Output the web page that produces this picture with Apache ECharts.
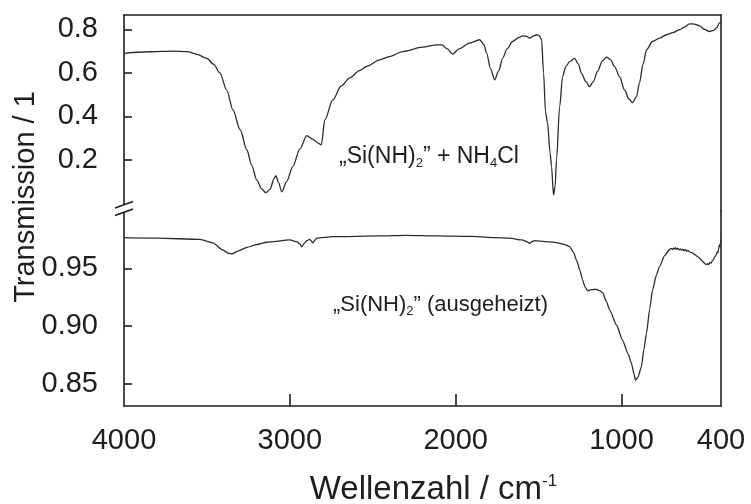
<!DOCTYPE html>
<html><head><meta charset="utf-8">
<script src="https://cdn.jsdelivr.net/npm/echarts@6/dist/echarts.min.js"></script>
<style>html,body{margin:0;padding:0;background:#fff}#c{width:751px;height:504px}</style>
</head><body><div id="c"></div><script>
// ---- data ----
const xTickLabels = [4000, 3000, 2000, 1000, 400];
const xTickMarks = [1000, 3000];       // first/last inner tick, step below
const xTickStep = 1000;
const topTicks = [0.2, 0.4, 0.6, 0.8];
const topTickStep = 0.2;
const bottomTicks = [0.85, 0.90, 0.95];
const bottomTickStep = 0.05;

// "Si(NH)2" + NH4Cl
const topWn = [4000,3850,3705,3620,3560,3500,3460,3422,3380,3343,3300,3259,3230,3199,3170,3145,3120,3095,3084,3070,3048,3020,2982,2940,2898,2860,2830,2810,2789,2741,2690,2639,2580,2536,2458,2400,2319,2200,2114,2084,2050,2018,1980,1916,1855,1830,1813,1790,1765,1740,1717,1690,1657,1620,1596,1570,1554,1530,1512,1495,1482,1470,1458,1446,1430,1422,1410,1400,1392,1373,1355,1335,1313,1283,1260,1241,1215,1193,1170,1145,1115,1090,1065,1042,1010,982,955,934,910,892,870,849,813,770,729,690,651,620,590,560,530,500,470,445,428,410,400];
const topT  = [0.690,0.697,0.700,0.698,0.685,0.667,0.640,0.600,0.520,0.430,0.340,0.246,0.175,0.108,0.068,0.050,0.065,0.115,0.128,0.100,0.054,0.100,0.170,0.250,0.312,0.295,0.278,0.270,0.384,0.476,0.540,0.577,0.610,0.630,0.660,0.675,0.698,0.718,0.729,0.729,0.710,0.686,0.710,0.737,0.752,0.730,0.690,0.620,0.568,0.610,0.667,0.710,0.744,0.762,0.770,0.768,0.760,0.770,0.775,0.770,0.752,0.600,0.420,0.370,0.230,0.170,0.039,0.080,0.200,0.445,0.583,0.630,0.652,0.667,0.640,0.598,0.560,0.537,0.560,0.606,0.655,0.672,0.660,0.629,0.580,0.522,0.480,0.463,0.490,0.553,0.640,0.706,0.744,0.760,0.775,0.785,0.798,0.810,0.825,0.824,0.816,0.800,0.790,0.795,0.805,0.828,0.835];

// "Si(NH)2" (ausgeheizt)
const botWn = [4000,3800,3542,3464,3404,3370,3349,3310,3259,3200,3139,3000,2958,2940,2928,2910,2898,2880,2861,2845,2837,2741,2458,2300,2114,1900,1753,1675,1600,1570,1554,1540,1524,1450,1392,1340,1313,1290,1271,1250,1235,1220,1205,1180,1151,1130,1114,1090,1072,1030,994,960,940,925,916,900,880,865,849,830,813,790,771,740,711,700,693,686,680,674,668,660,652,645,637,630,622,615,607,600,590,575,560,545,530,520,512,505,498,490,482,475,468,460,452,445,438,430,424,418,414,410,406,402,400];
const botT  = [0.9765,0.9760,0.9750,0.9720,0.9658,0.9630,0.9624,0.9650,0.9680,0.9705,0.9725,0.9745,0.9730,0.9710,0.9687,0.9720,0.9739,0.9750,0.9720,0.9750,0.9760,0.9773,0.9780,0.9785,0.9780,0.9775,0.9765,0.9760,0.9745,0.9730,0.9716,0.9730,0.9739,0.9730,0.9722,0.9705,0.9687,0.9640,0.9570,0.9480,0.9400,0.9340,0.9306,0.9315,0.9318,0.9305,0.9290,0.9210,0.9140,0.9010,0.8880,0.8760,0.8678,0.8590,0.8534,0.8560,0.8650,0.8800,0.8940,0.9150,0.9310,0.9440,0.9514,0.9610,0.9660,0.9672,0.9662,0.9675,0.9667,0.9678,0.9663,0.9671,0.9660,0.9668,0.9657,0.9664,0.9652,0.9660,0.9648,0.9655,0.9642,0.9635,0.9620,0.9605,0.9587,0.9575,0.9560,0.9552,0.9540,0.9532,0.9540,0.9530,0.9548,0.9545,0.9565,0.9575,0.9598,0.9612,0.9640,0.9635,0.9670,0.9700,0.9690,0.9730,0.9745];

const annoTop = '„Si(NH){sub|2}” + NH{sub|4}Cl';
const annoBot = '„Si(NH){sub|2}” (ausgeheizt)';
const yTitle = 'Transmission / 1';
const xTitle = 'Wellenzahl / cm{sup|-1}';

// ---- layout ----
const W = 751, H = 504;
const L = 124, R = 30;                 // plot left / right margins
const TOP_Y0 = 15, TOP_H = 196;        // upper panel
const BOT_Y0 = 211, BOT_H = 195;       // lower panel
const X_MIN = 400, X_MAX = 4000;
const TOP_MIN = -0.034, TOP_MAX = 0.8657;
const BOT_MIN = 0.831, BOT_MAX = 0.9995;

const plotW = W - L - R;
const xPix = v => L + (X_MAX - v) / (X_MAX - X_MIN) * plotW;
const yTopPix = v => TOP_Y0 + (TOP_MAX - v) / (TOP_MAX - TOP_MIN) * TOP_H;
const yBotPix = v => BOT_Y0 + (BOT_MAX - v) / (BOT_MAX - BOT_MIN) * BOT_H;

// ---- chart ----
const FONT = '"Liberation Sans", Arial, Helvetica, sans-serif';
const INK = '#1e1e1e';
const axisLine = { show: true, onZero: false, lineStyle: { color: INK, width: 1.6 } };
const noAxis = { show: false };
const zip = (a, b) => a.map((v, i) => [v, b[i]]);
const tickStyle = { color: INK, width: 1.6 };

const chart = echarts.init(document.getElementById('c'), null, { renderer: 'canvas' });
const subRich = { sub: { fontSize: 13, fontFamily: FONT, color: INK, padding: [12, 0, 0, 0] } };

const tTop = Math.max(...topTicks), tBot = Math.min(...topTicks);
const bTop = Math.max(...bottomTicks), bBot = Math.min(...bottomTicks);
const xa = Math.max(...xTickMarks), xb = Math.min(...xTickMarks);

chart.setOption({
  animation: false,
  backgroundColor: '#fff',
  textStyle: { fontFamily: FONT },
  grid: [
    { left: L, right: R, top: TOP_Y0, height: TOP_H, outerBoundsMode: 'none' },
    { left: L, right: R, top: BOT_Y0, height: BOT_H, outerBoundsMode: 'none' },
    // tick-only helper grids (span exactly the ticked value ranges)
    { left: L, right: R, top: yTopPix(tTop), height: yTopPix(tBot) - yTopPix(tTop), outerBoundsMode: 'none' },
    { left: L, right: R, top: yBotPix(bTop), height: yBotPix(bBot) - yBotPix(bTop), outerBoundsMode: 'none' },
    { left: xPix(xa), right: W - xPix(xb), top: 300, height: BOT_Y0 + BOT_H - 300, outerBoundsMode: 'none' }
  ],
  xAxis: [
    { type: 'value', gridIndex: 0, min: X_MIN, max: X_MAX, inverse: true, position: 'top',
      axisLine, axisTick: noAxis, axisLabel: noAxis, splitLine: noAxis },
    { type: 'value', gridIndex: 1, min: X_MIN, max: X_MAX, inverse: true, position: 'bottom',
      axisLine, axisTick: noAxis,
      axisLabel: { customValues: xTickLabels, formatter: v => String(v), margin: 20, fontSize: 29, color: INK, fontFamily: FONT },
      splitLine: noAxis,
      name: xTitle, nameLocation: 'middle', nameGap: 67,
      nameTextStyle: { fontSize: 33, color: INK, fontFamily: FONT, padding: [0, 0, 0, 22],
        rich: { sup: { fontSize: 17, color: INK, fontFamily: FONT, padding: [0, 0, 16, 0] } } } },
    { type: 'value', gridIndex: 2, min: X_MIN, max: X_MAX, inverse: true, show: false },
    { type: 'value', gridIndex: 3, min: X_MIN, max: X_MAX, inverse: true, show: false },
    { type: 'value', gridIndex: 4, min: xb, max: xa, interval: xTickStep, inverse: true, position: 'bottom',
      axisLine: noAxis, axisLabel: noAxis, splitLine: noAxis,
      axisTick: { show: true, inside: true, length: 12, lineStyle: tickStyle } }
  ],
  yAxis: [
    { type: 'value', gridIndex: 0, min: TOP_MIN, max: TOP_MAX, axisLine, axisTick: noAxis,
      axisLabel: { customValues: topTicks, formatter: v => v.toFixed(1), margin: 26, fontSize: 29, color: INK, fontFamily: FONT },
      splitLine: noAxis },
    { type: 'value', gridIndex: 0, min: TOP_MIN, max: TOP_MAX, position: 'right', axisLine,
      axisTick: noAxis, axisLabel: noAxis, splitLine: noAxis },
    { type: 'value', gridIndex: 1, min: BOT_MIN, max: BOT_MAX, axisLine, axisTick: noAxis,
      axisLabel: { customValues: bottomTicks, formatter: v => v.toFixed(2), margin: 26, fontSize: 29, color: INK, fontFamily: FONT },
      splitLine: noAxis },
    { type: 'value', gridIndex: 1, min: BOT_MIN, max: BOT_MAX, position: 'right', axisLine,
      axisTick: noAxis, axisLabel: noAxis, splitLine: noAxis },
    { type: 'value', gridIndex: 2, min: tBot, max: tTop, interval: topTickStep, position: 'left',
      axisLine: noAxis, axisLabel: noAxis, splitLine: noAxis,
      axisTick: { show: true, inside: true, length: 8, lineStyle: tickStyle } },
    { type: 'value', gridIndex: 3, min: bBot, max: bTop, interval: bottomTickStep, position: 'left',
      axisLine: noAxis, axisLabel: noAxis, splitLine: noAxis,
      axisTick: { show: true, inside: true, length: 8, lineStyle: tickStyle } },
    { type: 'value', gridIndex: 4, min: 0, max: 1, show: false }
  ],
  series: [
    { type: 'line', xAxisIndex: 0, yAxisIndex: 0, data: zip(topWn, topT), showSymbol: false,
      smooth: 0.3, smoothMonotone: 'x', lineStyle: { color: '#2b2b2b', width: 1.3 } },
    { type: 'line', xAxisIndex: 1, yAxisIndex: 2, data: zip(botWn, botT), showSymbol: false,
      smooth: 0.2, smoothMonotone: 'x', lineStyle: { color: '#2b2b2b', width: 1.3 } }
  ],
  graphic: [
    { type: 'text', x: 26, y: 197, rotation: Math.PI / 2, z: 100,
      style: { text: yTitle, fontSize: 29, fontFamily: FONT, fill: INK, align: 'center', verticalAlign: 'middle' } },
    { type: 'text', x: 339, y: 157, z: 100,
      style: { text: annoTop, fontSize: 23, fontFamily: FONT, fill: INK, align: 'left', verticalAlign: 'middle', rich: subRich } },
    { type: 'text', x: 333, y: 305, z: 100,
      style: { text: annoBot, fontSize: 22, fontFamily: FONT, fill: INK, align: 'left', verticalAlign: 'middle', rich: subRich } },
    { type: 'polygon', z: 100, shape: { points: [[114, 208.5], [134, 201.5], [134, 209], [114, 216]] },
      style: { fill: '#fff', stroke: null } },
    { type: 'line', z: 101, shape: { x1: 115, y1: 208, x2: 133, y2: 201.5 }, style: { stroke: INK, lineWidth: 1.6 } },
    { type: 'line', z: 101, shape: { x1: 115, y1: 215.5, x2: 133, y2: 209 }, style: { stroke: INK, lineWidth: 1.6 } }
  ]
});
</script></body></html>
